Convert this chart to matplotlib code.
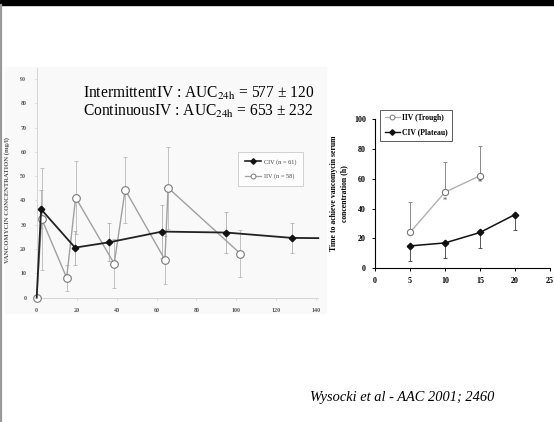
import matplotlib
matplotlib.use('Agg')
import matplotlib.pyplot as plt
from matplotlib.patches import Rectangle
from matplotlib.lines import Line2D

plt.rcParams['font.family'] = ['Liberation Serif', 'DejaVu Serif']
plt.rcParams['mathtext.fontset'] = 'stix'

# ---------------- data: left panel (concentration vs time) ----------------
civ_time = [0, 2.2, 19.2, 36.3, 62.8, 95, 127.8, 141]
civ_conc = [0, 36.4, 20.6, 22.8, 27.2, 26.8, 24.6, 24.5]
civ_sd = [0, 7.8, 7.0, 7.8, 11.0, 8.5, 6.2, 0]
civ_marked = [1, 2, 3, 4, 5, 6]   # indices drawn with a diamond

iiv_time = [0, 2.5, 15, 19.5, 38.8, 44.3, 64.2, 65.8, 102]
iiv_conc = [0, 32.4, 8.2, 41.2, 14.0, 44.4, 15.6, 45.2, 18.1]
iiv_sd = [0, 21.0, 5.4, 15.0, 10.0, 13.5, 9.8, 16.8, 9.6]

left_xticks = [0, 20, 40, 60, 80, 100, 120, 140]
left_yticks = [0, 10, 20, 30, 40, 50, 60, 70, 80, 90]

# ---------------- data: right panel (time to target vs dose) ----------------
dose = [5, 10, 15, 20]
iiv_trough_dose = [5, 10, 15]
iiv_trough = [24, 51, 62]
iiv_trough_err_up = [20.4, 20, 20]
civ_plateau = [15, 17, 24, 36]
civ_plateau_err_down = [9.9, 9.9, 10.2, 10.4]
star_x = [10, 15]
star_y = [45, 57]
right_xticks = [0, 5, 10, 15, 20, 25]
right_yticks = [0, 20, 40, 60, 80, 100]

W, H = 554, 422
fig = plt.figure(figsize=(W / 100, H / 100), dpi=100)
fig.patch.set_facecolor('white')


def fx(px):
    return px / W


def fy(py):
    return 1 - py / H


# slide decorations
fig.add_artist(Rectangle((0, fy(5)), 1, 5 / H, transform=fig.transFigure,
                         color='black', zorder=5))
fig.add_artist(Line2D([fx(1.2), fx(1.2)], [0, fy(5)], transform=fig.transFigure,
                      color='#9a9a9a', lw=1.6, zorder=5))
fig.add_artist(Rectangle((fx(5), fy(313)), fx(326 - 5), (313 - 67) / H,
                         transform=fig.transFigure, color='#f9f9f9', zorder=0))

# ---------------- left panel ----------------
ax1 = fig.add_axes([fx(36.7), fy(297.7), fx(281.6), 229.7 / H])
ax1.set_facecolor('none')
ax1.errorbar(iiv_time, iiv_conc, yerr=iiv_sd, fmt='none', ecolor='#b8b8b8',
             elinewidth=0.6, capsize=1.5, capthick=0.6, zorder=1)
ax1.errorbar(civ_time, civ_conc, yerr=civ_sd, fmt='none', ecolor='#b0b0b0',
             elinewidth=0.6, capsize=1.5, capthick=0.6, zorder=1)
ax1.plot(iiv_time, iiv_conc, color='#a0a0a0', lw=1.0, marker='o', mfc='white',
         mec='#7a7a7a', ms=5.5, mew=0.8, clip_on=False, zorder=3)
ax1.plot(civ_time, civ_conc, color='#222222', lw=1.3, marker='D', mfc='#111111',
         mec='#111111', ms=3.3, markevery=civ_marked, clip_on=False, zorder=4)
ax1.set_xlim(0, 141)
ax1.set_ylim(0, 94.5)
ax1.set_xticks(left_xticks)
ax1.set_yticks(left_yticks)
ax1.tick_params(labelsize=4.3, colors='#cccccc', labelcolor='#555555', length=1.5,
                width=0.5, pad=6)
for lab in ax1.get_xticklabels() + ax1.get_yticklabels():
    lab.set_fontweight('bold')
for s in ['top', 'right']:
    ax1.spines[s].set_visible(False)
for s in ['left', 'bottom']:
    ax1.spines[s].set_color('#d4d4d4')
    ax1.spines[s].set_linewidth(0.7)
ax1.set_ylabel('VANCOMYCIN CONCENTRATION (mg/l)', fontsize=4.8, color='#555555',
               fontweight='bold')
ax1.yaxis.set_label_coords(-0.095, 0.425)

h_civ = Line2D([], [], color='#222222', lw=1.2, marker='D', ms=2.8,
               mfc='#111111', mec='#111111')
h_iiv = Line2D([], [], color='#a0a0a0', lw=0.9, marker='o', ms=3.5,
               mfc='white', mec='#7a7a7a', mew=0.7)
leg1 = fig.legend([h_civ, h_iiv], ['CIV (n = 61)', 'IIV (n = 58)'],
                  loc='upper left', bbox_to_anchor=(fx(238), fy(152)),
                  fontsize=4.5, frameon=True, fancybox=False, edgecolor='#bdbdbd',
                  handlelength=2.6, borderpad=1.1, labelspacing=1.4,
                  borderaxespad=0, handletextpad=0.4)
leg1.get_frame().set_linewidth(0.6)
for t in leg1.get_texts():
    t.set_color('#444444')

fig.text(fx(83), fy(93), 'IntermittentIV : AUC$_{\\mathrm{24h}}$ = 577 ± 120',
         fontsize=11.2, va='center', ha='left')
fig.text(fx(83), fy(111), 'ContinuousIV : AUC$_{\\mathrm{24h}}$ = 653 ± 232',
         fontsize=11.2, va='center', ha='left')

# ---------------- right panel ----------------
ax2 = fig.add_axes([fx(375), fy(268.3), fx(175), 149.3 / H])
ax2.set_facecolor('none')
ax2.errorbar(iiv_trough_dose, iiv_trough,
             yerr=[[0] * len(iiv_trough), iiv_trough_err_up], fmt='none',
             ecolor='#8a8a8a', elinewidth=0.7, capsize=1.5, capthick=0.7, zorder=1)
ax2.errorbar(dose, civ_plateau,
             yerr=[civ_plateau_err_down, [0] * len(civ_plateau)], fmt='none',
             ecolor='#555555', elinewidth=0.7, capsize=1.5, capthick=0.7, zorder=1)
ax2.plot(iiv_trough_dose, iiv_trough, color='#b0b0b0', lw=1.0, marker='o',
         mfc='white', mec='#777777', ms=4.5, mew=0.8, zorder=3)
ax2.plot(dose, civ_plateau, color='#111111', lw=1.1, marker='D', mfc='#111111',
         mec='#111111', ms=3.3, zorder=4)
for xs, ys in zip(star_x, star_y):
    ax2.text(xs, ys, '*', fontsize=6, ha='center', va='center', color='#444444')
ax2.set_xlim(0, 25)
ax2.set_ylim(0, 100)
ax2.set_xticks(right_xticks)
ax2.set_yticks(right_yticks)
ax2.tick_params(labelsize=5.8, length=2.5, width=0.7, pad=4)
for lab in ax2.get_xticklabels() + ax2.get_yticklabels():
    lab.set_fontweight('bold')
for s in ['top', 'right']:
    ax2.spines[s].set_visible(False)
for s in ['left', 'bottom']:
    ax2.spines[s].set_linewidth(0.8)
ax2.set_ylabel('Time to achieve vancomycin serum\nconcentration (h)', fontsize=5.6,
               fontweight='bold', linespacing=1.3)
ax2.yaxis.set_label_coords(-0.155, 0.5)

h_tr = Line2D([], [], color='#b0b0b0', lw=0.9, marker='o', ms=3.5,
              mfc='white', mec='#777777', mew=0.7)
h_pl = Line2D([], [], color='#111111', lw=1.0, marker='D', ms=2.8,
              mfc='#111111', mec='#111111')
leg2 = fig.legend([h_tr, h_pl], ['IIV (Trough)', 'CIV (Plateau)'],
                  loc='upper left', bbox_to_anchor=(fx(380), fy(109.5)),
                  fontsize=5.5, frameon=True, fancybox=False, edgecolor='#333333',
                  handlelength=2.0, borderpad=0.6, labelspacing=0.8,
                  borderaxespad=0, handletextpad=0.3)
leg2.get_frame().set_linewidth(0.7)
for t in leg2.get_texts():
    t.set_fontweight('bold')

fig.text(fx(310), fy(398), 'Wysocki et al - AAC 2001; 2460', fontsize=10.4,
         style='italic', va='center', ha='left')

fig.savefig('out.png', dpi=100)
